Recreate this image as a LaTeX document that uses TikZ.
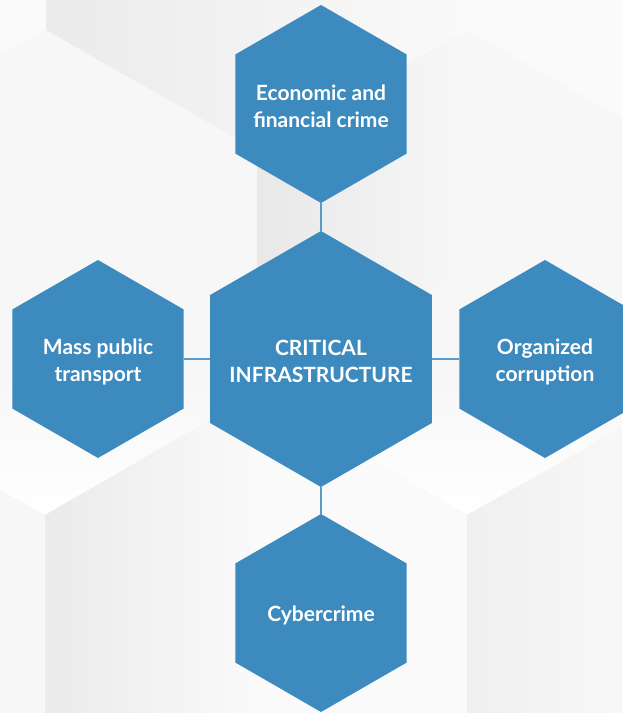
\documentclass[tikz,border=0pt]{standalone}
\usepackage{fontspec}
\setmainfont{Lato}
\usepackage{tikz}
\usetikzlibrary{shapes.geometric}

\definecolor{hexblue}{HTML}{3D8BBE}
\definecolor{linkblue}{HTML}{5A9ACA}
\definecolor{bggray}{HTML}{F7F7F7}

\tikzset{
  hextext/.style={text=white, align=center, inner sep=0pt, yshift=-2.5pt,
    font=\bfseries\fontsize{21}{27}\selectfont},
  hexbig/.style={regular polygon, regular polygon sides=6, shape border rotate=30,
    fill=hexblue, inner sep=0pt, outer sep=0pt, minimum size=256pt},
  hexsmall/.style={hexbig, minimum size=198pt},
  link/.style={draw=linkblue, line width=1.3pt}
}

\begin{document}
\begin{tikzpicture}[x=1pt, y=-1pt]
                    \useasboundingbox (0,0) rectangle (622,713);
                    % Background cubes
                    \fill[bggray] (0,0) rectangle (622,713);
                    \shade[left color=black!8, right color=black!2]
                      (46,0) -- (46,30) -- (257,150) -- (467,30) -- (467,0) -- cycle;
                    \shade[left color=black!9, right color=black!3]
                      (257,150) -- (467,30) -- (467,270) -- (257,393) -- cycle;
                    \fill[black!2] (467,0) -- (467,30) -- (622,118) -- (622,0) -- cycle;
                    \fill[black!2] (0,0) -- (46,0) -- (46,30) -- (0,55) -- cycle;
                    \shade[top color=bggray, bottom color=white]
                      (0,380) -- (0,490) -- (45,515) -- (257,393) -- (467,515) -- (622,428) -- (622,380) -- cycle;
                    \shade[left color=black!8, right color=black!2]
                      (45,515) -- (257,393) -- (257,713) -- (45,713) -- cycle;
                    \fill[black!2] (257,393) -- (467,515) -- (467,713) -- (257,713) -- cycle;
                    \shade[left color=black!6, right color=black!3]
                      (467,515) -- (622,428) -- (622,713) -- (467,713) -- cycle;
                    \fill[black!3] (0,490) -- (45,515) -- (45,713) -- (0,713) -- cycle;
                    % Nodes
                    \node[hexbig, label={[hextext]center:CRITICAL\\INFRASTRUCTURE}] (crit) at (321,359) {};
                    \node[hexsmall, label={[hextext]center:Economic and\\financial crime}] (econ) at (321,104) {};
                    \node[hexsmall, label={[hextext]center:Mass public\\transport}] (mass) at (98,359) {};
                    \node[hexsmall, label={[hextext]center:Organized\\corruption}] (corr) at (545,359) {};
                    \node[hexsmall, label={[hextext]center:Cybercrime}] (cyber) at (321,613) {};
                    % Edges
                    \draw[link] (econ) -- (crit);
                    \draw[link] (mass) -- (crit);
                    \draw[link] (corr) -- (crit);
                    \draw[link] (cyber) -- (crit);
                \end{tikzpicture}
\end{document}
